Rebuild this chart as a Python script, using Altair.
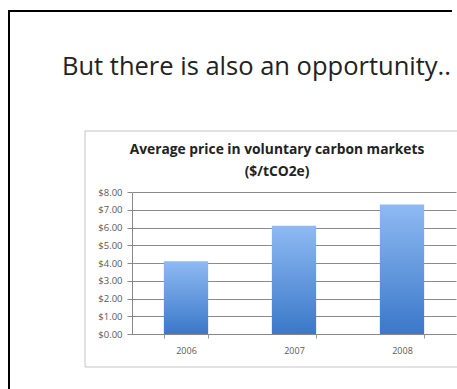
import altair as alt
import pandas as pd

years = ["2006", "2007", "2008"]
prices = [4.1, 6.1, 7.3]
y_ticks = [0, 1, 2, 3, 4, 5, 6, 7, 8]
slide_title = "But there is also an opportunity.."
chart_title_1 = "Average price in voluntary carbon markets"
chart_title_2 = "($/tCO2e)"

df = pd.DataFrame({"year": years, "price": prices})
one = pd.DataFrame({"a": [0]})

grad = alt.Gradient(
    gradient="linear",
    stops=[alt.GradientStop(color="#8fbaf3", offset=0),
           alt.GradientStop(color="#3a78c9", offset=1)],
    x1=0, x2=0, y1=0, y2=1,
)

# slide border (top and left edges; the rest lies outside the window)
border_top = alt.Chart(one).mark_rule(color="black", strokeWidth=2).encode(
    x=alt.value(-124), x2=alt.value(320), y=alt.value(-181))
border_left = alt.Chart(one).mark_rule(color="black", strokeWidth=2).encode(
    x=alt.value(-123), y=alt.value(-182), y2=alt.value(210))

# embedded chart frame
frame_top = alt.Chart(one).mark_rule(color="#c4c4c4", strokeWidth=1).encode(
    x=alt.value(-47), x2=alt.value(340), y=alt.value(-61))
frame_left = alt.Chart(one).mark_rule(color="#c4c4c4", strokeWidth=1).encode(
    x=alt.value(-47), y=alt.value(-61), y2=alt.value(175))
frame_bottom = alt.Chart(one).mark_rule(color="#c4c4c4", strokeWidth=1).encode(
    x=alt.value(-47), x2=alt.value(340), y=alt.value(175))

title_txt = alt.Chart(one).mark_text(
    text=slide_title, font="Open Sans", fontSize=25.5, align="left",
    baseline="alphabetic", color="#222222"
).encode(x=alt.value(-70), y=alt.value(-117))

ct1 = alt.Chart(one).mark_text(
    text=chart_title_1, font="Open Sans", fontSize=13.8, fontWeight="bold",
    align="center", baseline="middle", color="#222222"
).encode(x=alt.value(145), y=alt.value(-42))

ct2 = alt.Chart(one).mark_text(
    text=chart_title_2, font="Open Sans", fontSize=13.8, fontWeight="bold",
    align="center", baseline="middle", color="#222222"
).encode(x=alt.value(145), y=alt.value(-20))

bars = alt.Chart(df).mark_bar(color=grad).encode(
    x=alt.X("year:N", title=None,
            scale=alt.Scale(paddingInner=0.59, paddingOuter=0.295),
            axis=alt.Axis(labelAngle=0, labelFont="Open Sans", labelFontSize=9,
                          labelColor="#595959", labelPadding=8, tickBand="extent",
                          tickSize=4, tickColor="#999999", domainColor="#888888",
                          grid=False)),
    y=alt.Y("price:Q", title=None,
            scale=alt.Scale(domain=[0, 8], nice=False),
            axis=alt.Axis(values=y_ticks, format="$.2f", labelFont="Open Sans",
                          labelFontSize=9.5, labelColor="#595959", labelPadding=5,
                          tickSize=5, tickColor="#888888", domainColor="#888888",
                          gridColor="#8a8a8a", gridOpacity=1)),
)

chart = alt.layer(border_top, border_left, frame_top, frame_left, frame_bottom,
                  title_txt, ct1, ct2, bars).properties(
    width=324, height=142,
    autosize=alt.AutoSizeParams(type="none"),
    padding={"left": 132, "top": 192, "right": 1, "bottom": 55},
    background="white",
).configure_view(stroke=None)

chart.save("out.html", embed_options={"renderer": "svg", "actions": False})
